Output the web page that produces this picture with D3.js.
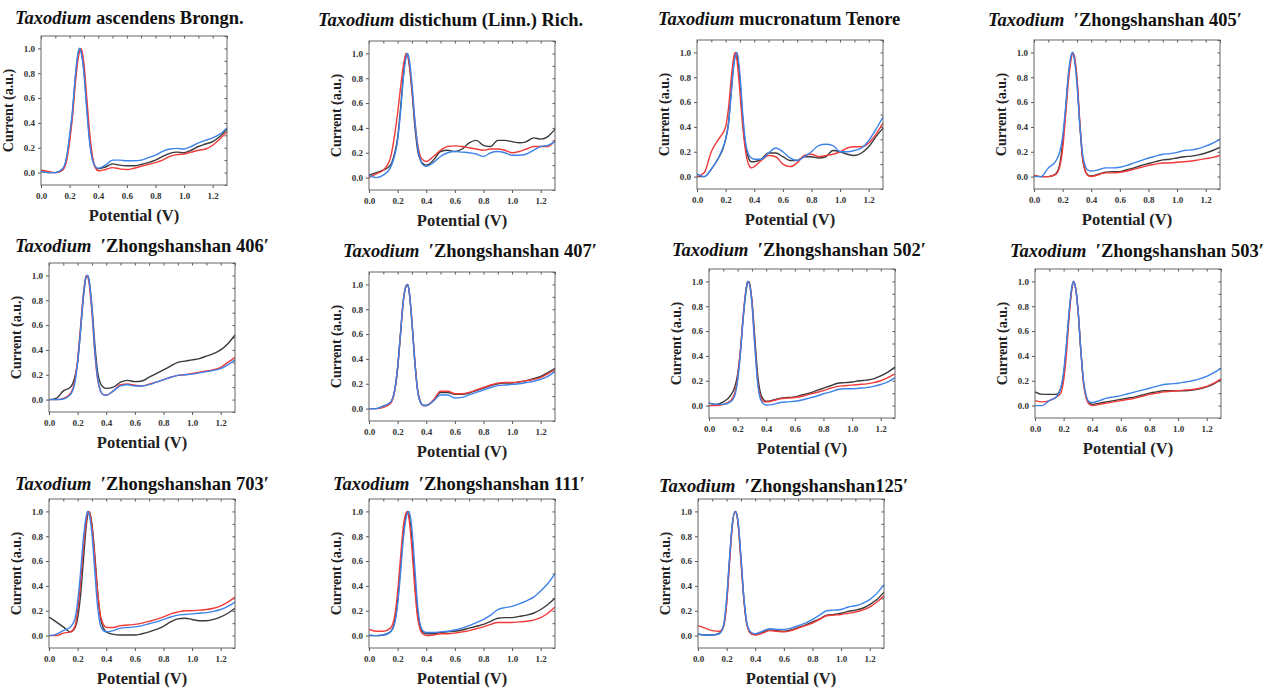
<!DOCTYPE html>
<html lang="en">
<head>
<meta charset="UTF-8">
<title>Taxodium DPV curves</title>
<script src="https://d3js.org/d3.v7.min.js"></script>
<style>
    body { margin: 0; background: #fff; }
    svg text { font-family: "Liberation Serif", "Times New Roman", serif; font-weight: bold; }
</style>
</head>
<body>
<script>
// potential grid (V) shared by every curve
const potential = [0, 0.05, 0.1, 0.15, 0.18, 0.2, 0.22, 0.24, 0.26, 0.27, 0.28, 0.3, 0.32, 0.34, 0.36, 0.38, 0.4,
    0.45, 0.5, 0.55, 0.6, 0.65, 0.7, 0.75, 0.8, 0.85, 0.9, 0.95, 1.0, 1.05, 1.1, 1.15, 1.2, 1.25, 1.3];

// panel titles: italic genus + rest
const genus = "Taxodium";
const panelNames = [
    " ascendens Brongn.",
    " distichum (Linn.) Rich.",
    " mucronatum Tenore",
    "  \u2032Zhongshanshan 405\u2032",
    "  \u2032Zhongshanshan 406\u2032",
    "  \u2032Zhongshanshan 407\u2032",
    "  \u2032Zhongshanshan 502\u2032",
    "  \u2032Zhongshanshan 503\u2032",
    "  \u2032Zhongshanshan 703\u2032",
    "  \u2032Zhongshanshan 111\u2032",
    "  \u2032Zhongshanshan125\u2032"
];

const xTicks = [0, 0.2, 0.4, 0.6, 0.8, 1.0, 1.2];
const yTicks = [0, 0.2, 0.4, 0.6, 0.8, 1.0];

// normalised current, one row per panel
const blackRuns = [
    [0.01,0,0,0.02,0.12,0.28,0.48,0.76,0.96,1.0,0.98,0.83,0.54,0.27,0.11,0.045,0.03,0.045,0.07,0.06,0.055,0.055,0.065,0.08,0.1,0.13,0.155,0.165,0.16,0.18,0.21,0.23,0.25,0.29,0.35],
    [0.02,0.04,0.06,0.1,0.2,0.32,0.55,0.82,1.0,0.99,0.92,0.7,0.42,0.22,0.14,0.11,0.1,0.14,0.21,0.22,0.21,0.23,0.28,0.3,0.26,0.25,0.3,0.3,0.29,0.28,0.29,0.32,0.31,0.33,0.39],
    [0,0,0.06,0.15,0.22,0.3,0.43,0.7,0.94,1.0,0.98,0.78,0.45,0.24,0.15,0.12,0.12,0.14,0.19,0.19,0.16,0.13,0.13,0.16,0.16,0.15,0.16,0.21,0.2,0.18,0.17,0.19,0.24,0.32,0.39],
    [0.01,0,0,0.02,0.1,0.27,0.52,0.8,0.97,1.0,0.97,0.78,0.42,0.14,0.04,0.01,0.005,0.02,0.035,0.04,0.04,0.055,0.07,0.09,0.105,0.12,0.135,0.14,0.15,0.16,0.165,0.175,0.19,0.21,0.235],
    [0,0.01,0.07,0.1,0.18,0.3,0.55,0.82,0.99,1.0,0.96,0.75,0.45,0.22,0.13,0.1,0.09,0.1,0.14,0.155,0.145,0.15,0.18,0.21,0.24,0.27,0.3,0.31,0.32,0.33,0.35,0.37,0.4,0.45,0.52],
    [0,0,0.02,0.05,0.15,0.33,0.6,0.87,0.99,1.0,0.95,0.7,0.38,0.145,0.05,0.025,0.025,0.065,0.13,0.13,0.115,0.115,0.125,0.145,0.165,0.185,0.2,0.205,0.205,0.215,0.225,0.24,0.26,0.29,0.325],
    [0.02,0.01,0.03,0.08,0.15,0.25,0.45,0.72,0.93,0.99,1.0,0.85,0.55,0.25,0.1,0.05,0.035,0.045,0.06,0.065,0.07,0.085,0.1,0.12,0.14,0.16,0.18,0.185,0.19,0.2,0.205,0.215,0.24,0.27,0.31],
    [0.11,0.09,0.09,0.09,0.14,0.25,0.48,0.76,0.96,1.0,0.97,0.78,0.45,0.18,0.06,0.02,0.01,0.02,0.03,0.04,0.05,0.06,0.07,0.085,0.1,0.11,0.12,0.12,0.12,0.12,0.125,0.135,0.15,0.175,0.21],
    [0.15,0.11,0.07,0.03,0.06,0.14,0.32,0.6,0.88,0.97,1.0,0.9,0.65,0.35,0.14,0.06,0.03,0.01,0.005,0.005,0.005,0.015,0.03,0.05,0.075,0.11,0.135,0.14,0.13,0.12,0.12,0.13,0.15,0.18,0.22],
    [0,0,0.005,0.03,0.12,0.28,0.55,0.82,0.97,1.0,0.97,0.78,0.45,0.18,0.06,0.025,0.015,0.015,0.025,0.03,0.035,0.045,0.06,0.075,0.09,0.115,0.14,0.145,0.145,0.155,0.165,0.18,0.21,0.25,0.3],
    [0.01,0.005,0.005,0.02,0.08,0.27,0.6,0.9,1.0,0.98,0.91,0.62,0.3,0.1,0.03,0.01,0.01,0.025,0.045,0.04,0.035,0.045,0.065,0.085,0.11,0.135,0.165,0.17,0.18,0.195,0.205,0.22,0.25,0.29,0.35]
];
const redRuns = [
    [0.02,0.01,0,0.02,0.1,0.25,0.45,0.72,0.92,0.98,1.0,0.88,0.6,0.32,0.13,0.04,0.015,0.025,0.04,0.03,0.025,0.035,0.05,0.065,0.08,0.1,0.13,0.145,0.15,0.165,0.18,0.19,0.22,0.27,0.33],
    [0,0.03,0.06,0.16,0.35,0.52,0.72,0.9,1.0,0.98,0.93,0.72,0.46,0.27,0.17,0.14,0.13,0.17,0.22,0.25,0.255,0.25,0.24,0.23,0.22,0.23,0.23,0.22,0.2,0.21,0.23,0.25,0.25,0.25,0.3],
    [0,0.03,0.2,0.3,0.35,0.4,0.55,0.8,0.98,1.0,0.93,0.68,0.4,0.2,0.1,0.07,0.08,0.13,0.17,0.16,0.1,0.08,0.11,0.17,0.18,0.16,0.17,0.18,0.2,0.23,0.24,0.24,0.27,0.34,0.43],
    [0.01,0,0,0.015,0.08,0.22,0.48,0.76,0.95,0.99,0.98,0.8,0.45,0.15,0.04,0.005,0,0.015,0.03,0.03,0.035,0.045,0.06,0.075,0.09,0.1,0.11,0.11,0.115,0.12,0.125,0.135,0.145,0.155,0.17],
    [0,0,0.01,0.05,0.15,0.32,0.58,0.85,1.0,0.99,0.94,0.7,0.38,0.16,0.07,0.04,0.035,0.07,0.12,0.125,0.115,0.11,0.125,0.14,0.16,0.18,0.195,0.2,0.21,0.22,0.23,0.24,0.26,0.3,0.34],
    [0,0,0.01,0.04,0.14,0.32,0.6,0.87,0.99,1.0,0.95,0.7,0.39,0.15,0.055,0.025,0.025,0.07,0.14,0.14,0.12,0.12,0.13,0.15,0.17,0.19,0.205,0.21,0.21,0.215,0.225,0.235,0.25,0.28,0.315],
    [0,0,0.01,0.04,0.1,0.22,0.45,0.74,0.95,1.0,0.99,0.83,0.5,0.2,0.07,0.035,0.03,0.04,0.055,0.06,0.065,0.075,0.09,0.105,0.12,0.14,0.155,0.16,0.165,0.17,0.175,0.185,0.2,0.225,0.255],
    [0.04,0.03,0.04,0.07,0.1,0.2,0.42,0.74,0.96,1.0,0.97,0.78,0.45,0.17,0.05,0.01,0,0.01,0.02,0.03,0.04,0.05,0.06,0.075,0.09,0.1,0.11,0.115,0.12,0.125,0.13,0.14,0.155,0.18,0.215],
    [0,0,0.02,0.03,0.07,0.2,0.42,0.7,0.92,0.99,1.0,0.88,0.62,0.35,0.16,0.09,0.065,0.065,0.08,0.085,0.09,0.1,0.115,0.13,0.15,0.175,0.19,0.2,0.2,0.205,0.21,0.22,0.24,0.27,0.31],
    [0.05,0.035,0.035,0.06,0.16,0.35,0.62,0.88,0.99,1.0,0.94,0.7,0.38,0.14,0.04,0.01,0,0.005,0.015,0.015,0.02,0.03,0.04,0.055,0.07,0.09,0.105,0.105,0.105,0.11,0.115,0.125,0.145,0.18,0.23],
    [0.08,0.06,0.04,0.035,0.08,0.25,0.58,0.88,1.0,0.98,0.9,0.6,0.3,0.1,0.03,0.01,0.005,0.02,0.04,0.035,0.03,0.04,0.06,0.08,0.1,0.13,0.16,0.165,0.17,0.18,0.19,0.205,0.23,0.27,0.32]
];
const blueRuns = [
    [0.01,0,0,0.03,0.13,0.3,0.5,0.78,0.97,1.0,0.97,0.8,0.5,0.24,0.1,0.05,0.035,0.06,0.1,0.1,0.095,0.095,0.1,0.12,0.14,0.17,0.19,0.195,0.19,0.21,0.24,0.26,0.28,0.31,0.36],
    [0.02,0,0.02,0.08,0.18,0.3,0.52,0.8,0.97,1.0,0.96,0.76,0.47,0.25,0.14,0.1,0.09,0.12,0.17,0.2,0.21,0.205,0.2,0.19,0.17,0.2,0.21,0.2,0.18,0.18,0.19,0.22,0.25,0.26,0.29],
    [0.02,0,0.06,0.15,0.23,0.3,0.42,0.68,0.92,0.98,1.0,0.82,0.5,0.27,0.18,0.15,0.14,0.14,0.19,0.23,0.2,0.15,0.13,0.16,0.2,0.25,0.26,0.25,0.2,0.2,0.21,0.23,0.29,0.38,0.48],
    [0,0,0.07,0.12,0.2,0.32,0.55,0.82,0.98,1.0,0.96,0.75,0.42,0.18,0.08,0.05,0.045,0.055,0.07,0.07,0.075,0.09,0.11,0.13,0.15,0.165,0.18,0.185,0.195,0.21,0.215,0.225,0.245,0.27,0.3],
    [0,0,0.005,0.04,0.13,0.3,0.55,0.83,0.99,1.0,0.96,0.73,0.4,0.17,0.07,0.04,0.035,0.07,0.11,0.12,0.11,0.11,0.12,0.14,0.16,0.18,0.195,0.2,0.205,0.215,0.225,0.235,0.25,0.28,0.32],
    [0,0,0.02,0.05,0.15,0.33,0.6,0.87,0.99,1.0,0.95,0.7,0.38,0.14,0.05,0.025,0.025,0.06,0.11,0.11,0.085,0.09,0.11,0.13,0.15,0.17,0.185,0.19,0.195,0.2,0.21,0.22,0.235,0.26,0.3],
    [0.02,0.01,0.01,0.03,0.08,0.2,0.42,0.72,0.94,1.0,0.99,0.82,0.48,0.18,0.05,0.015,0.005,0.01,0.025,0.03,0.035,0.045,0.06,0.075,0.095,0.11,0.13,0.135,0.135,0.14,0.145,0.155,0.17,0.19,0.225],
    [0,0,0.04,0.07,0.14,0.27,0.5,0.78,0.97,1.0,0.97,0.78,0.45,0.19,0.07,0.03,0.025,0.04,0.06,0.07,0.08,0.095,0.11,0.125,0.14,0.155,0.17,0.175,0.18,0.19,0.2,0.215,0.235,0.265,0.3],
    [0,0.01,0.04,0.07,0.13,0.27,0.5,0.78,0.96,1.0,0.98,0.82,0.52,0.23,0.08,0.04,0.03,0.04,0.06,0.065,0.07,0.08,0.095,0.11,0.13,0.15,0.165,0.17,0.175,0.18,0.185,0.195,0.21,0.235,0.27],
    [0.005,0,0.005,0.03,0.1,0.25,0.5,0.78,0.95,0.99,1.0,0.86,0.55,0.24,0.08,0.035,0.025,0.025,0.03,0.035,0.045,0.06,0.08,0.105,0.13,0.165,0.21,0.225,0.235,0.255,0.28,0.31,0.36,0.42,0.5],
    [0.015,0.005,0.005,0.015,0.09,0.3,0.62,0.9,1.0,0.98,0.92,0.64,0.32,0.11,0.04,0.02,0.015,0.035,0.055,0.05,0.05,0.06,0.08,0.1,0.13,0.165,0.2,0.205,0.21,0.23,0.24,0.26,0.29,0.34,0.41]
];

// layout: plot box top-left corner and title anchor for each panel
const boxes = [[41, 36], [369, 41], [697, 40], [1034, 40], [49, 263], [369, 272], [709, 269], [1035, 269], [49, 499], [369, 499], [698, 499]];
const titleAt = [[15, 24], [318, 26], [658, 25], [988, 26], [15, 252], [343, 257], [672, 256], [1010, 257], [15, 490], [333, 490], [659, 492]];

const W = 186, H = 149;
const colors = { black: "#3a3a3a", red: "#f23a3a", blue: "#3d83ea" };

const svg = d3.select("body").append("svg")
    .attr("width", 1279)
    .attr("height", 689);

const x = d3.scaleLinear().domain([0, 1.3]).range([0, W]);
const y = d3.scaleLinear().domain([-0.1, 1.1]).range([H, 0]);
const fmt = d3.format(".1f");
const minorX = d3.range(0, 1.31, 0.1).map(v => +v.toFixed(1));
const minorY = d3.range(-0.1, 1.11, 0.1).map(v => +v.toFixed(1));

const line = d3.line()
    .x((d, i) => x(potential[i]))
    .y(d => y(d))
    .curve(d3.curveMonotoneX);

boxes.forEach((b, p) => {
    // title
    const t = svg.append("text")
        .attr("x", titleAt[p][0])
        .attr("y", titleAt[p][1])
        .style("font-size", "18.5px")
        .attr("fill", "#111")
        .attr("xml:space", "preserve");
    t.append("tspan").style("font-style", "italic").text(genus);
    t.append("tspan").text(panelNames[p]);

    const g = svg.append("g").attr("transform", `translate(${b[0]},${b[1]})`);

    // axes
    const bottom = g.append("g").attr("transform", `translate(0,${H})`)
        .call(d3.axisBottom(x).tickValues(xTicks).tickFormat(fmt).tickSize(3));
    const left = g.append("g")
        .call(d3.axisLeft(y).tickValues(yTicks).tickFormat(fmt).tickSize(3));
    g.append("g").call(d3.axisTop(x).tickValues(minorX).tickFormat("").tickSize(-2.5));
    g.append("g").attr("transform", `translate(${W},0)`)
        .call(d3.axisRight(y).tickValues(minorY).tickFormat("").tickSize(-2.5));

    g.selectAll(".domain").remove();
    g.selectAll(".tick line").attr("stroke", "#555");
    [bottom, left].forEach(a => a.selectAll("text")
        .style("font-size", "9px")
        .attr("fill", "#333"));
    bottom.selectAll("text").attr("dy", "0.9em");

    // curves
    [["black", blackRuns], ["red", redRuns], ["blue", blueRuns]].forEach(([c, runs]) => {
        g.append("path")
            .datum(runs[p])
            .attr("fill", "none")
            .attr("stroke", colors[c])
            .attr("stroke-width", 1.4)
            .attr("stroke-linejoin", "round")
            .attr("d", line);
    });

    g.append("rect")
        .attr("width", W)
        .attr("height", H)
        .attr("fill", "none")
        .attr("stroke", "#666")
        .attr("stroke-width", 1);

    // axis titles
    g.append("text")
        .attr("transform", `translate(-28,${H / 2}) rotate(-90)`)
        .attr("text-anchor", "middle")
        .style("font-size", "14px")
        .attr("fill", "#222")
        .text("Current (a.u.)");
    g.append("text")
        .attr("x", W / 2)
        .attr("y", H + 36)
        .attr("text-anchor", "middle")
        .style("font-size", "16.5px")
        .attr("fill", "#222")
        .text("Potential (V)");
});
</script>
</body>
</html>
